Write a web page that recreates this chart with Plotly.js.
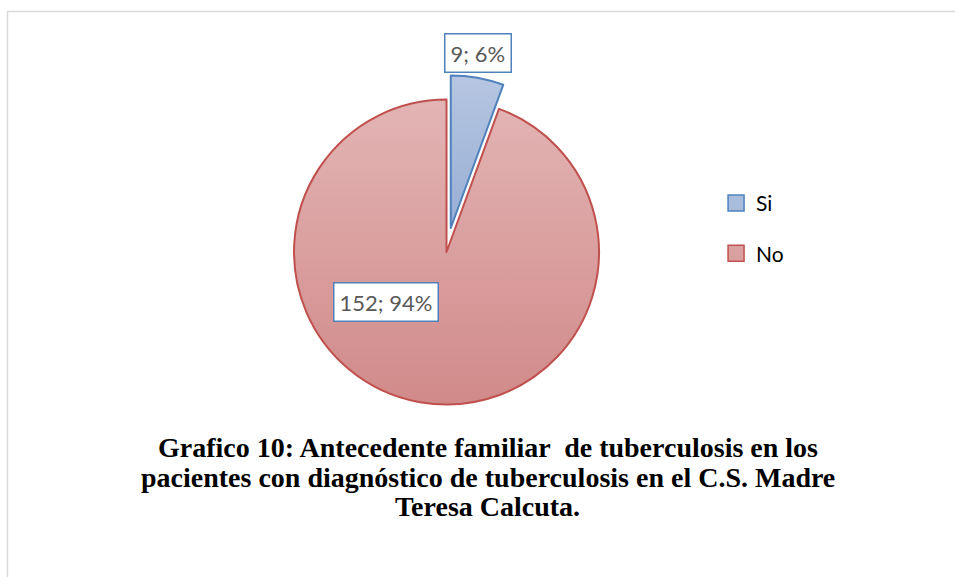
<!DOCTYPE html>
<html>
<head>
<meta charset="utf-8">
<script src="https://cdn.plot.ly/plotly-3.0.1.min.js"></script>
<style>
html,body{margin:0;padding:0;background:#fff;}
#chart{width:955px;height:577px;}
</style>
</head>
<body>
<div id="chart"></div>
<script>
// ---- data ----
const categories = ['Si', 'No'];
const counts = [9, 152];
const percentLabels = ['6%', '94%'];
const pulls = [0.16, 0];
const titleLines = [
  'Grafico 10: Antecedente familiar  de tuberculosis en los',
  'pacientes con diagnóstico de tuberculosis en el C.S. Madre',
  'Teresa Calcuta.'
];

// ---- styles ----
const fillColors = ['#a9bcdb', '#daa0a0'];
const lineColors = ['#4f81bd', '#c0504d'];
const labelFont = {family: 'Lato, "Liberation Sans", sans-serif', size: 22, color: '#595959'};
const titleFont = {family: '"Liberation Serif", "Times New Roman", serif', size: 28, color: '#000000', weight: 'bold'};

const pie = {
  type: 'pie',
  labels: categories,
  values: counts,
  sort: false,
  direction: 'clockwise',
  rotation: 0,
  pull: pulls,
  textinfo: 'none',
  hoverinfo: 'label+value+percent',
  showlegend: false,
  marker: {colors: fillColors, line: {color: lineColors, width: 2}},
  domain: {x: [0.2823, 0.6528], y: [0.2567, 0.8698]}
};

// legend entries built from the categories
const legendTraces = categories.map((c, i) => ({
  type: 'scatter', mode: 'markers', x: [null], y: [null],
  name: c, legendgroup: 'g' + i, hoverinfo: 'skip',
  marker: {symbol: 'square', size: 16, color: fillColors[i], line: {color: lineColors[i], width: 1.5}}
}));

const labelPos = [
  {x: 0.5005, y: 0.909},
  {x: 0.4047, y: 0.4766}
];
const annotations = categories.map((c, i) => ({
  xref: 'paper', yref: 'paper', x: labelPos[i].x, y: labelPos[i].y,
  xanchor: 'center', yanchor: 'middle', showarrow: false,
  text: counts[i] + '; ' + percentLabels[i],
  font: labelFont, bgcolor: '#ffffff', bordercolor: '#4f81bd', borderwidth: 1.5, borderpad: 5
}));

// chart title, one line per annotation (keeps the original line spacing)
const titleY = [0.2245, 0.1732, 0.1219];
titleLines.forEach((t, i) => {
  annotations.push({
    xref: 'paper', yref: 'paper', x: 0.5105, y: titleY[i],
    xanchor: 'center', yanchor: 'middle', showarrow: false,
    text: '<b>' + t + '</b>', font: titleFont
  });
});

const layout = {
  width: 955, height: 577,
  margin: {l: 0, r: 0, t: 0, b: 0},
  paper_bgcolor: '#ffffff', plot_bgcolor: '#ffffff',
  xaxis: {visible: false}, yaxis: {visible: false},
  showlegend: true,
  legend: {
    x: 0.7498, y: 0.683, xanchor: 'left', yanchor: 'top',
    traceorder: 'grouped', tracegroupgap: 20,
    font: {family: 'Lato, "Liberation Sans", sans-serif', size: 21, color: '#000000'},
    itemclick: false, itemdoubleclick: false
  },
  annotations: annotations,
  shapes: [{
    type: 'rect', xref: 'paper', yref: 'paper',
    x0: 7.5 / 955, x1: 1.02, y0: -0.02, y1: 1 - 11.5 / 577,
    line: {color: '#d9d9d9', width: 1.5}, fillcolor: 'rgba(0,0,0,0)', layer: 'below'
  }]
};

Plotly.newPlot('chart', [pie].concat(legendTraces), layout, {displayModeBar: false, staticPlot: true}).then(gd => {
  // gradient fills similar to the original office-style chart
  const svg = gd.querySelector('svg.main-svg');
  const ns = 'http://www.w3.org/2000/svg';
  let defs = svg.querySelector('defs');
  const grads = [['gradSi', '#b6c6e2', '#97aed3'], ['gradNo', '#e3b4b4', '#d18a8a']];
  grads.forEach(g => {
    const lg = document.createElementNS(ns, 'linearGradient');
    lg.setAttribute('id', g[0]);
    lg.setAttribute('x1', '0'); lg.setAttribute('y1', '0');
    lg.setAttribute('x2', '0'); lg.setAttribute('y2', '1');
    [['0', g[1]], ['1', g[2]]].forEach(s => {
      const st = document.createElementNS(ns, 'stop');
      st.setAttribute('offset', s[0]); st.setAttribute('stop-color', s[1]);
      lg.appendChild(st);
    });
    defs.appendChild(lg);
  });
  const paths = gd.querySelectorAll('.slice path.surface');
  paths.forEach((p, i) => { p.style.fill = 'url(#' + grads[i][0] + ')'; });
});
</script>
</body>
</html>
